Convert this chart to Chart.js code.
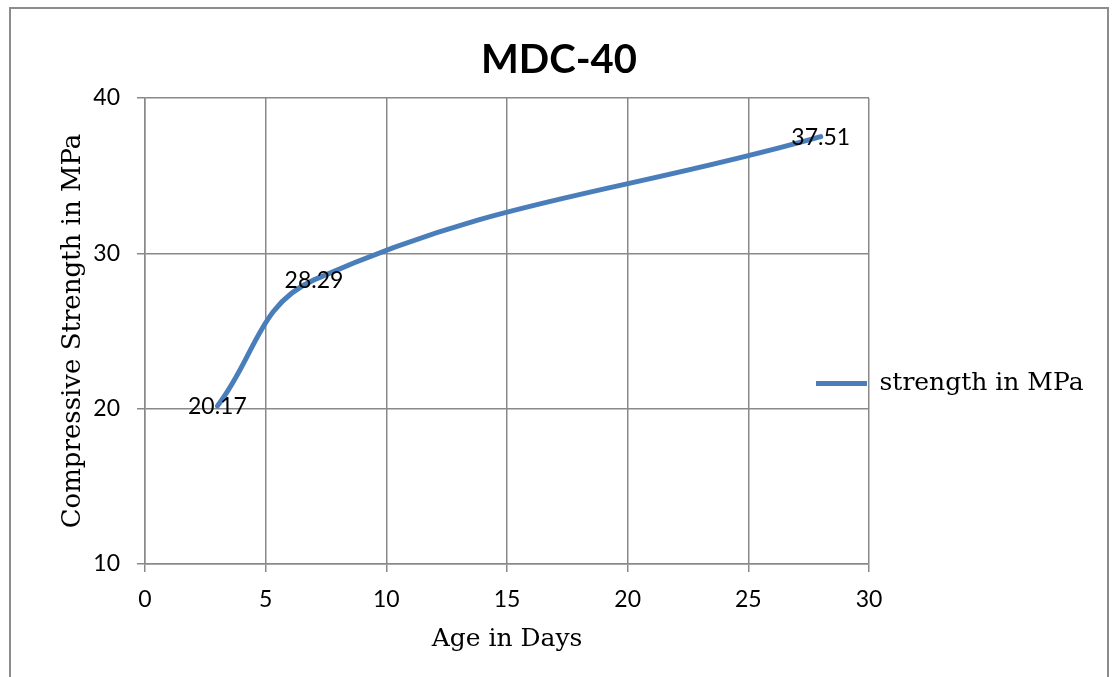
<!DOCTYPE html>
<html>
<head>
<meta charset="utf-8">
<title>MDC-40</title>
<script src="https://cdn.jsdelivr.net/npm/chart.js@4.4.1/dist/chart.umd.min.js"></script>
<style>
  html, body { margin: 0; padding: 0; background: #ffffff; }
  #wrap { width: 1112px; height: 677px; position: relative; }
  canvas { display: block; }
</style>
</head>
<body>
<div id="wrap"><canvas id="chart" width="1112" height="677"></canvas></div>
<script>
// ---- data ----
const ageDays = [3, 7, 28];
const strengthMPa = [20.17, 28.29, 37.51];
const xTickValues = [0, 5, 10, 15, 20, 25, 30];
const yTickValues = [10, 20, 30, 40];
const seriesName = 'strength in MPa';
const chartTitle = 'MDC-40';
const xAxisTitle = 'Age in Days';
const yAxisTitle = 'Compressive Strength in MPa';

// ---- look ----
const LINE_BLUE = '#4a7ebb';
const GRID_GREY = '#898989';
const FRAME_GREY = '#8c8c8c';
const SANS = 'Lato, "Open Sans", "Liberation Sans", sans-serif';
const SERIF = '"DejaVu Serif", "Liberation Serif", serif';

// legend box geometry (legend sits right of the plot, its key overlapping the plot edge)
const LEGEND_BOX_W = 239;
const LEGEND_LEFT = 806;
const LEGEND_TOP = 361;
const LEGEND_RIGHT = 1106;

// outer frame around the whole chart
const chartFrame = {
  id: 'chartFrame',
  beforeDraw(chart) {
    const ctx = chart.ctx;
    ctx.save();
    ctx.fillStyle = '#ffffff';
    ctx.fillRect(0, 0, chart.width, chart.height);
    ctx.strokeStyle = FRAME_GREY;
    ctx.lineWidth = 2;
    ctx.strokeRect(10, 8, 1098, 720);
    ctx.restore();
  }
};

// fixed legend width (reserves the space right of the plot) and final position
const legendPlacement = {
  id: 'legendPlacement',
  beforeLayout(chart) {
    const lg = chart.legend;
    if (lg && !lg.__fixedWidth) {
      const fit = lg.fit;
      lg.fit = function () { fit.call(this); this.width = LEGEND_BOX_W; };
      lg.__fixedWidth = true;
    }
  },
  afterLayout(chart) {
    const lg = chart.legend;
    if (!lg) return;
    const dy = LEGEND_TOP - lg.top;
    lg.left = LEGEND_LEFT;
    lg.right = LEGEND_RIGHT;
    lg.width = LEGEND_RIGHT - LEGEND_LEFT;
    lg.top += dy;
    lg.bottom += dy;
  }
};

// value labels centred on each point
const pointLabels = {
  id: 'pointLabels',
  afterDatasetsDraw(chart) {
    const ctx = chart.ctx;
    const meta = chart.getDatasetMeta(0);
    ctx.save();
    ctx.font = '23px ' + SANS;
    ctx.fillStyle = '#000000';
    ctx.textAlign = 'center';
    ctx.textBaseline = 'middle';
    meta.data.forEach((pt, i) => {
      ctx.fillText(strengthMPa[i].toFixed(2), pt.x, pt.y + 1);
    });
    ctx.restore();
  }
};

new Chart(document.getElementById('chart'), {
  type: 'line',
  data: {
    datasets: [{
      label: seriesName,
      data: ageDays.map((d, i) => ({ x: d, y: strengthMPa[i] })),
      borderColor: LINE_BLUE,
      backgroundColor: LINE_BLUE,
      borderWidth: 5,
      borderCapStyle: 'round',
      borderJoinStyle: 'round',
      tension: 0.4,
      pointRadius: 0,
      pointHoverRadius: 0,
      fill: false
    }]
  },
  options: {
    responsive: false,
    animation: false,
    devicePixelRatio: 1,
    layout: { padding: { left: 10, right: 4, top: 10, bottom: 13 } },
    plugins: {
      tooltip: { enabled: false },
      title: {
        display: true,
        text: chartTitle,
        color: '#000000',
        font: { family: SANS, size: 40, weight: 'bold', lineHeight: 1.2 },
        padding: { top: 26, bottom: 14 }
      },
      legend: {
        display: true,
        position: 'right',
        align: 'start',
        labels: {
          color: '#000000',
          font: { family: SERIF, size: 25 },
          usePointStyle: true,
          pointStyle: 'line',
          pointStyleWidth: 51,
          padding: 10
        }
      }
    },
    scales: {
      x: {
        type: 'linear',
        min: xTickValues[0],
        max: xTickValues[xTickValues.length - 1],
        afterBuildTicks: s => { s.ticks = xTickValues.map(v => ({ value: v })); },
        afterFit: s => { s.height = 100; },
        grid: { color: GRID_GREY, lineWidth: 1.5, tickLength: 8, drawTicks: true },
        border: { color: GRID_GREY, width: 1.5 },
        ticks: { color: '#000000', font: { family: SANS, size: 23 }, padding: 14, maxRotation: 0 },
        title: {
          display: true,
          text: xAxisTitle,
          color: '#000000',
          font: { family: SERIF, size: 25, lineHeight: 1.2 },
          padding: { top: 0, bottom: 10 }
        }
      },
      y: {
        type: 'linear',
        min: yTickValues[0],
        max: yTickValues[yTickValues.length - 1],
        afterBuildTicks: s => { s.ticks = yTickValues.map(v => ({ value: v })); },
        afterFit: s => { s.width = 135; },
        grid: { color: GRID_GREY, lineWidth: 1.5, tickLength: 8, drawTicks: true },
        border: { color: GRID_GREY, width: 1.5 },
        ticks: { color: '#000000', font: { family: SANS, size: 23 }, padding: 17 },
        title: {
          display: true,
          text: yAxisTitle,
          color: '#000000',
          font: { family: SERIF, size: 26, lineHeight: 1.2 },
          padding: { top: 48, bottom: 0 }
        }
      }
    }
  },
  plugins: [chartFrame, legendPlacement, pointLabels]
});
</script>
</body>
</html>
